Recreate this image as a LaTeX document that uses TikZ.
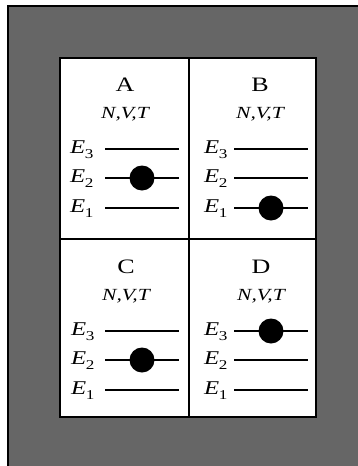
\documentclass[tikz,border=0pt]{standalone}
\usepackage{fontspec}
\setmainfont{Liberation Serif}[FakeStretch=1.27]
\newcommand{\lvsub}[1]{\kern-0.5pt\raisebox{-5pt}{\fontsize{13.5}{13.5}\selectfont\upshape #1}}
\begin{document}
\begin{tikzpicture}[x=1pt,y=-1pt,
  frame/.style={line width=2.8pt},
  level/.style={line width=2.2pt},
  particle/.style={circle,fill=black,inner sep=0pt,minimum size=25pt},
  title/.style={font=\fontsize{20.5}{20.5}\selectfont,anchor=base,inner sep=0pt},
  vars/.style={font=\fontsize{17}{17}\selectfont\itshape,anchor=base,inner sep=0pt},
  elab/.style={font=\fontsize{19.5}{19.5}\selectfont\itshape,anchor=base west,inner sep=0pt}]
\useasboundingbox (0,0) rectangle (358,466);
\clip (0,0) rectangle (358,466);
% dark surround
\fill[white] (0,0) rectangle (358,466);
\draw[line width=2pt,fill={rgb,255:red,102;green,102;blue,102}] (8,6) rectangle (380,490);
% white panel with its 2x2 grid
\draw[frame,fill=white] (60,58) rectangle (316,417);
\draw[frame] (189,58) -- (189,417);
\draw[frame] (60,239) -- (316,239);
% one cell: #1 title x, #2 row offset, #3 name, #4 occupied level,
% #5 label x, #6 level start x, #7 level end x
\newcommand{\cell}[7]{%
  \begin{scope}[yshift=-#2pt]
    \node[title] (t#3) at (#1,91) {#3};
    \node[vars] (v#3) at (#1,118.5) {N,V,T};
    \foreach \k/\yy in {3/149,2/178,1/208}{
      \node[elab] (e#3\k) at (#5,\yy+4.5) {E\lvsub{\k}};
      \coordinate (l#3\k) at (#6,\yy);
      \coordinate (r#3\k) at (#7,\yy);
      \draw[level] (l#3\k) -- (r#3\k);
    }
    \path (l#3#4) -- node[particle,pos=0.5] (p#3) {} (r#3#4);
  \end{scope}}
\cell{125}{0}{A}{2}{70}{105}{179}
\cell{260}{0}{B}{1}{204}{234}{308}
\cell{126}{182}{C}{2}{71}{105}{179}
\cell{261}{182}{D}{3}{204}{234}{308}
\end{tikzpicture}
\end{document}
